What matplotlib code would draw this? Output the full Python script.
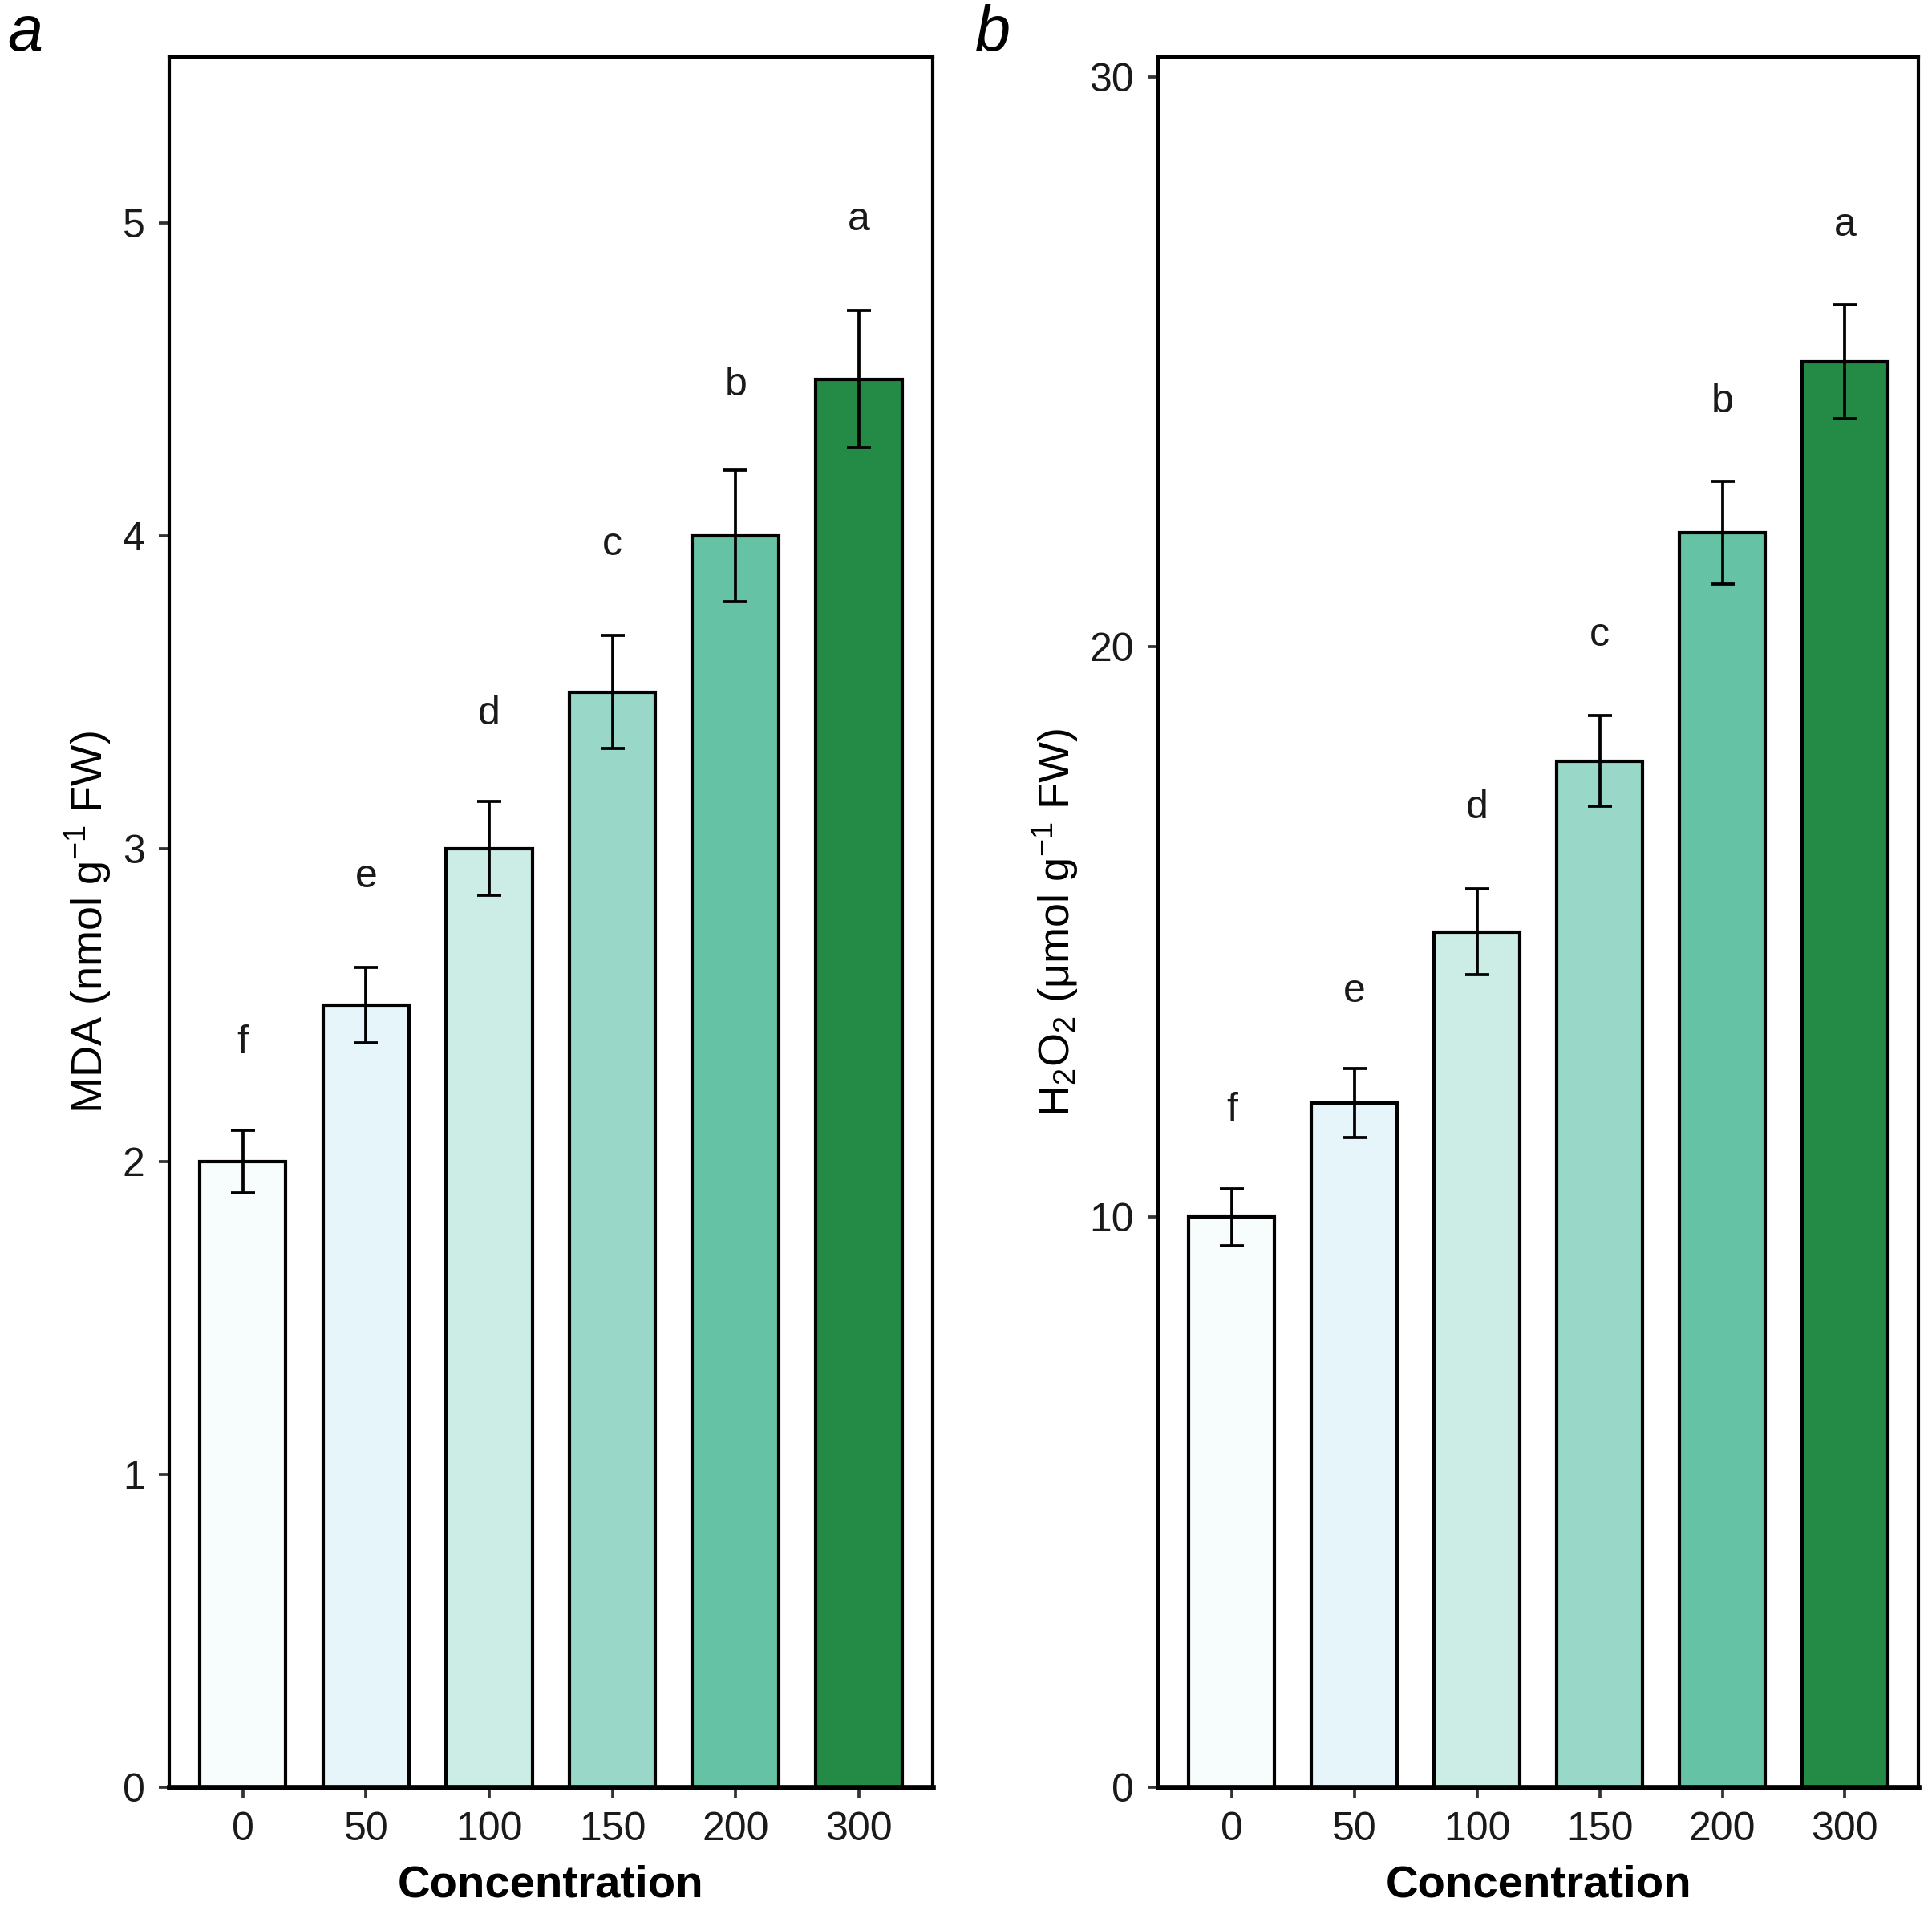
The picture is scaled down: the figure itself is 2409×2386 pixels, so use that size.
import numpy as np
import matplotlib.pyplot as plt

plt.rcParams['font.family'] = ['Liberation Sans', 'DejaVu Sans']
plt.rcParams['mathtext.default'] = 'regular'

conc = ['0', '50', '100', '150', '200', '300']
mda = [2.0, 2.5, 3.0, 3.5, 4.0, 4.5]
mda_se = [0.10, 0.12, 0.15, 0.18, 0.21, 0.22]
mda_letters = ['f', 'e', 'd', 'c', 'b', 'a']
mda_letter_y = [2.38, 2.91, 3.43, 3.97, 4.48, 5.01]

h2o2 = [10.0, 12.0, 15.0, 18.0, 22.0, 25.0]
h2o2_se = [0.5, 0.6, 0.75, 0.8, 0.9, 1.0]
h2o2_letters = ['f', 'e', 'd', 'c', 'b', 'a']
h2o2_letter_y = [11.87, 13.96, 17.18, 20.2, 24.3, 27.4]

colors = ['#F7FCFD', '#E5F5F9', '#CCECE6', '#99D8C9', '#66C2A4', '#238B45']

fig = plt.figure(figsize=(2409 / 300, 2386 / 300), dpi=300)
ax1 = fig.add_axes([0.0874, 0.0663, 0.3954, 0.904])
ax2 = fig.add_axes([0.5995, 0.0663, 0.3935, 0.904])


def panel(ax, vals, se, letters, ly, ymax, yticks, ylabel):
    x = np.arange(len(conc))
    ax.bar(x, vals, width=0.7, color=colors, edgecolor='black', linewidth=1.0, zorder=2)
    ax.errorbar(x, vals, yerr=se, fmt='none', ecolor='black', elinewidth=0.9,
                capsize=3.7, capthick=0.9, zorder=3)
    for xi, lab, yy in zip(x, letters, ly):
        ax.text(xi, yy, lab, ha='center', va='center', fontsize=12, color='#1a1a1a')
    ax.set_xlim(-0.6, 5.6)
    ax.set_ylim(0, ymax)
    ax.set_xticks(x)
    ax.set_xticklabels(conc)
    ax.set_yticks(yticks)
    ax.tick_params(direction='out', length=3.2, width=0.9, color='#333333',
                   labelsize=12, labelcolor='#1a1a1a', pad=4)
    for s in ax.spines.values():
        s.set_linewidth(1.0)
    ax.spines['bottom'].set_linewidth(1.6)
    ax.set_xlabel('Concentration', fontsize=13.5, fontweight='bold', labelpad=5)
    ax.set_ylabel(ylabel, fontsize=13, labelpad=2.5)


panel(ax1, mda, mda_se, mda_letters, mda_letter_y, 5.53, [0, 1, 2, 3, 4, 5],
      r'MDA (nmol g$^{-1}$ FW)')
panel(ax2, h2o2, h2o2_se, h2o2_letters, h2o2_letter_y, 30.35, [0, 10, 20, 30],
      r'H$_2$O$_2$ (μmol g$^{-1}$ FW)')

fig.text(0.013, 0.982, 'a', fontsize=19, style='italic', ha='center', va='center')
fig.text(0.514, 0.982, 'b', fontsize=19, style='italic', ha='center', va='center')

fig.savefig('out.png', dpi=300)
